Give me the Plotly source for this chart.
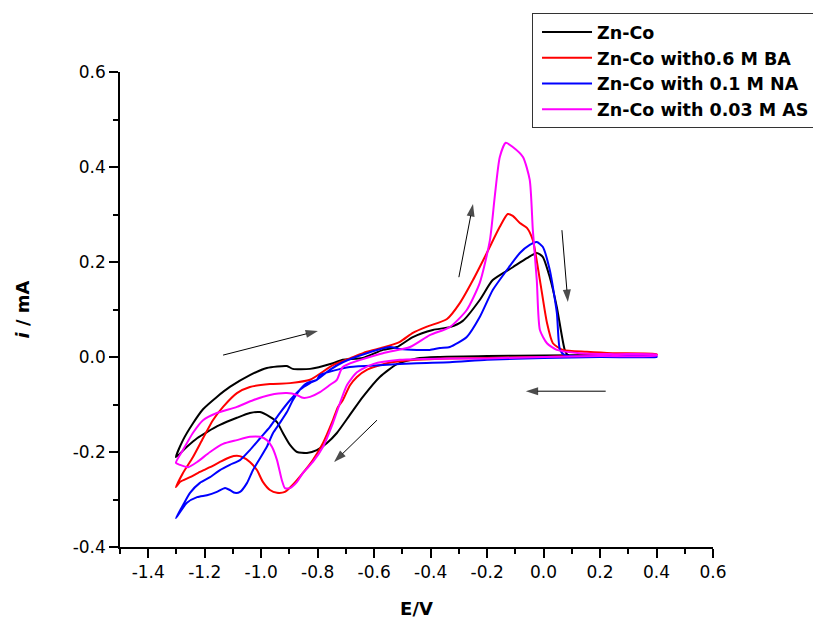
import plotly.graph_objects as go

# ---------------- data (E in V, i in mA) ----------------
series_names = ["Zn-Co", "Zn-Co with0.6 M BA", "Zn-Co with 0.1 M NA", "Zn-Co with 0.03 M AS"]
series_colors = ["#000000", "#ff0000", "#0000ff", "#ff00ff"]

# Zn-Co (black): anodic sweep from -1.3 to 0.4, then cathodic back to -1.3
black_E = [-1.302, -1.277, -1.242, -1.206, -1.157, -1.111, -1.040, -0.980, -0.909, -0.888,
           -0.827, -0.746, -0.711, -0.640, -0.569, -0.519, -0.463, -0.392, -0.332, -0.286,
           -0.226, -0.180, -0.109, -0.059, -0.024, -0.003, 0.022, 0.047, 0.075, 0.086,
           0.2, 0.4,
           0.4, 0.2, 0.0, -0.2, -0.367, -0.449, -0.519, -0.580, -0.640, -0.686, -0.732,
           -0.767, -0.803, -0.838, -0.873, -0.898, -0.923, -0.944, -0.969, -1.004, -1.040,
           -1.086, -1.146, -1.192, -1.227, -1.263, -1.302]
black_i = [-0.211, -0.175, -0.140, -0.110, -0.084, -0.063, -0.038, -0.023, -0.019, -0.025,
           -0.025, -0.013, -0.006, -0.002, 0.015, 0.021, 0.042, 0.057, 0.063, 0.076,
           0.120, 0.162, 0.189, 0.208, 0.219, 0.211, 0.168, 0.105, 0.015, 0.004,
           0.004, 0.004,
           0.004, 0.004, 0.003, 0.002, 0.000, -0.003, -0.015, -0.042, -0.084, -0.122, -0.160,
           -0.181, -0.196, -0.202, -0.200, -0.185, -0.160, -0.137, -0.126, -0.116, -0.118,
           -0.128, -0.143, -0.158, -0.171, -0.189, -0.211]

# Zn-Co with 0.6 M BA (red)
red_E = [-1.302, -1.277, -1.242, -1.206, -1.171, -1.135, -1.086, -1.040, -0.969, -0.898,
         -0.827, -0.746, -0.686, -0.626, -0.569, -0.509, -0.463, -0.413, -0.342, -0.296,
         -0.250, -0.201, -0.155, -0.127, -0.109, -0.084, -0.059, -0.038, -0.013, 0.012,
         0.033, 0.068, 0.153, 0.245, 0.4,
         0.4, 0.2, 0.0, -0.2, -0.332, -0.449, -0.555, -0.626, -0.661, -0.686, -0.711,
         -0.728, -0.746, -0.781, -0.817, -0.852, -0.888, -0.916, -0.944, -0.969, -0.994,
         -1.015, -1.040, -1.065, -1.086, -1.111, -1.146, -1.181, -1.217, -1.252, -1.288, -1.302]
red_i = [-0.274, -0.244, -0.211, -0.171, -0.133, -0.105, -0.076, -0.063, -0.057, -0.055,
         -0.048, -0.017, -0.003, 0.011, 0.020, 0.032, 0.051, 0.064, 0.080, 0.114,
         0.162, 0.219, 0.274, 0.301, 0.297, 0.282, 0.272, 0.246, 0.162, 0.072,
         0.029, 0.015, 0.011, 0.008, 0.006,
         0.004, 0.004, 0.000, -0.002, -0.003, -0.006, -0.013, -0.027, -0.042, -0.060, -0.091,
         -0.105, -0.133, -0.181, -0.217, -0.244, -0.269, -0.284, -0.286, -0.280, -0.263,
         -0.238, -0.221, -0.211, -0.208, -0.211, -0.221, -0.232, -0.242, -0.253, -0.263, -0.274]

# Zn-Co with 0.1 M NA (blue)
blue_E = [-1.302, -1.277, -1.252, -1.217, -1.181, -1.146, -1.111, -1.075, -1.040, -1.004,
          -0.969, -0.934, -0.898, -0.863, -0.827, -0.803, -0.757, -0.711, -0.626, -0.544,
          -0.509, -0.449, -0.403, -0.367, -0.332, -0.272, -0.226, -0.180, -0.130, -0.084,
          -0.049, -0.024, -0.003, 0.022, 0.047, 0.058, 0.075, 0.2, 0.4,
          0.4, 0.2, 0.0, -0.2, -0.332, -0.449, -0.569, -0.686, -0.792, -0.803, -0.838,
          -0.863, -0.888, -0.909, -0.934, -0.958, -0.980, -1.004, -1.029, -1.050, -1.075,
          -1.093, -1.111, -1.128, -1.157, -1.192, -1.227, -1.263, -1.302]
blue_i = [-0.339, -0.312, -0.286, -0.265, -0.253, -0.238, -0.227, -0.217, -0.196, -0.171,
          -0.147, -0.118, -0.091, -0.069, -0.055, -0.048, -0.027, -0.011, 0.008, 0.021,
          0.017, 0.015, 0.015, 0.019, 0.021, 0.042, 0.084, 0.141, 0.183, 0.219,
          0.236, 0.242, 0.232, 0.183, 0.093, 0.015, 0.004, 0.002, 0.001,
          0.000, 0.000, -0.002, -0.006, -0.011, -0.013, -0.017, -0.021, -0.038, -0.048, -0.055,
          -0.069, -0.091, -0.116, -0.139, -0.160, -0.189, -0.213, -0.238, -0.265, -0.284,
          -0.286, -0.280, -0.276, -0.284, -0.291, -0.295, -0.307, -0.339]

# Zn-Co with 0.03 M AS (magenta)
mag_E = [-1.302, -1.277, -1.242, -1.206, -1.157, -1.086, -1.029, -0.969, -0.909, -0.873,
         -0.852, -0.827, -0.792, -0.757, -0.732, -0.711, -0.569, -0.473, -0.403, -0.332,
         -0.272, -0.226, -0.190, -0.173, -0.155, -0.134, -0.109, -0.073, -0.049, -0.038,
         -0.024, -0.013, 0.012, 0.047, 0.128, 0.25, 0.4,
         0.4, 0.2, 0.0, -0.2, -0.332, -0.509, -0.604, -0.661, -0.696, -0.721, -0.746,
         -0.781, -0.817, -0.852, -0.873, -0.898, -0.916, -0.927, -0.944, -0.962, -0.980,
         -1.004, -1.040, -1.086, -1.135, -1.181, -1.227, -1.259, -1.288, -1.302]
mag_i = [-0.223, -0.196, -0.160, -0.133, -0.118, -0.105, -0.091, -0.080, -0.076, -0.080,
         -0.086, -0.084, -0.074, -0.059, -0.048, -0.021, 0.008, 0.021, 0.046, 0.063,
         0.099, 0.156, 0.246, 0.337, 0.421, 0.451, 0.442, 0.421, 0.373, 0.267,
         0.162, 0.057, 0.029, 0.015, 0.008, 0.006, 0.005,
         0.003, 0.002, 0.000, -0.003, -0.003, -0.006, -0.015, -0.032, -0.059, -0.097, -0.139,
         -0.189, -0.221, -0.244, -0.263, -0.276, -0.276, -0.259, -0.217, -0.189, -0.175,
         -0.168, -0.168, -0.175, -0.183, -0.200, -0.221, -0.232, -0.227, -0.223]

series_E = [black_E, red_E, blue_E, mag_E]
series_i = [black_i, red_i, blue_i, mag_i]

x_tick_vals = [-1.4, -1.2, -1.0, -0.8, -0.6, -0.4, -0.2, 0.0, 0.2, 0.4, 0.6]
x_tick_text = ["-1.4", "-1.2", "-1.0", "-0.8", "-0.6", "-0.4", "-0.2", "0.0", "0.2", "0.4", "0.6"]
y_tick_vals = [-0.4, -0.2, 0.0, 0.2, 0.4, 0.6]
y_tick_text = ["-0.4", "-0.2", "0.0", "0.2", "0.4", "0.6"]

# sweep-direction arrows: tail (E, i) -> head (E, i)
arrow_tail_E = [-1.135, -0.590, -0.300, 0.065, 0.220]
arrow_tail_i = [0.004, -0.133, 0.168, 0.267, -0.072]
arrow_head_E = [-0.799, -0.742, -0.250, 0.086, -0.063]
arrow_head_i = [0.055, -0.221, 0.322, 0.116, -0.072]

# ---------------- figure ----------------
TICK_FONT = "DejaVu Sans, Verdana, sans-serif"
fig = go.Figure()
for k in range(4):
    fig.add_trace(go.Scatter(
        x=series_E[k], y=series_i[k], mode="lines", name=series_names[k],
        legendgroup="g%d" % k,
        line=dict(color=series_colors[k], width=2, shape="spline", smoothing=0.6),
    ))

for k in range(len(arrow_tail_E)):
    fig.add_trace(go.Scatter(
        x=[arrow_tail_E[k], arrow_head_E[k]], y=[arrow_tail_i[k], arrow_head_i[k]],
        mode="lines+markers", showlegend=False, hoverinfo="skip",
        line=dict(color="#000000", width=1),
        marker=dict(symbol=["circle", "arrow"], size=[0, 13], color="#000000",
                    angleref="previous", line=dict(width=0)),
    ))

axis_common = dict(
    showline=True, linecolor="#000000", linewidth=1.5, mirror=False,
    showgrid=False, zeroline=False,
    ticks="outside", ticklen=9, tickwidth=1.5, tickcolor="#000000",
    tickfont=dict(family=TICK_FONT, size=17, color="#000000"),
)

fig.update_layout(
    width=813, height=619,
    margin=dict(l=120, r=100, t=72, b=72, autoexpand=False),
    paper_bgcolor="white", plot_bgcolor="white",
    showlegend=True,
    legend=dict(
        x=0.6948, y=1.124, xanchor="left", yanchor="top",
        bgcolor="white", bordercolor="#333333", borderwidth=1,
        font=dict(family=TICK_FONT, size=17.5, color="#000000", weight="bold"),
        tracegroupgap=0, itemwidth=50, indentation=4,
    ),
    xaxis=dict(
        range=[-1.5, 0.6], tickvals=x_tick_vals, ticktext=x_tick_text,
        minor=dict(ticks="outside", ticklen=5, tickwidth=1.5, tickcolor="#000000", dtick=0.1, tick0=0),
        title=dict(text="E/V", standoff=22,
                   font=dict(family=TICK_FONT, size=18, color="#000000", weight="bold")),
        **axis_common,
    ),
    yaxis=dict(
        range=[-0.4, 0.6], tickvals=y_tick_vals, ticktext=y_tick_text,
        minor=dict(ticks="outside", ticklen=5, tickwidth=1.5, tickcolor="#000000", dtick=0.1, tick0=0),
        title=dict(text="<i>i</i> / mA", standoff=38,
                   font=dict(family=TICK_FONT, size=18, color="#000000", weight="bold")),
        **axis_common,
    ),
)

fig.write_html("out.html")
